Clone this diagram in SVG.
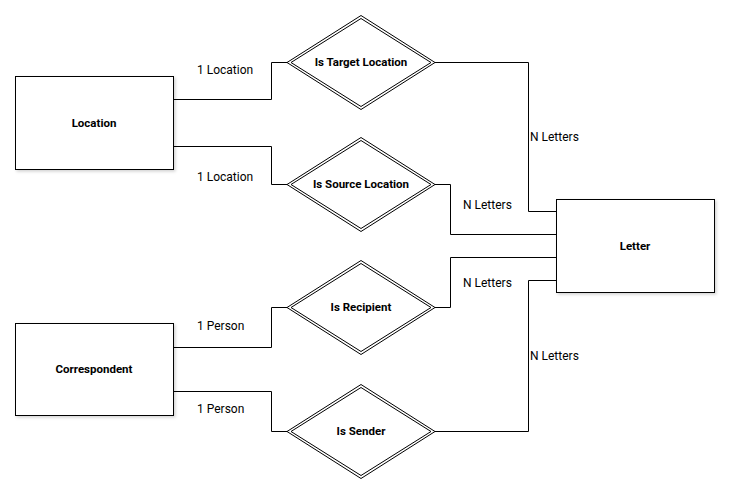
<svg xmlns="http://www.w3.org/2000/svg" width="730" height="492" viewBox="0 0 730 492">
<defs>
<filter id="sh" x="-10%" y="-10%" width="130%" height="130%">
<feDropShadow dx="1.5" dy="1.5" stdDeviation="1.5" flood-color="#000" flood-opacity="0.18"/>
</filter>
<style>
.ent{fill:#fff;stroke:#000;stroke-width:1;filter:url(#sh)}
.rel{fill:#fff;stroke:#000;stroke-width:1}
.reli{fill:none;stroke:#000;stroke-width:1}
.name{font-family:Roboto,"Liberation Sans",sans-serif;font-size:11.5px;font-weight:bold;text-anchor:middle;fill:#000}
.lbl{font-family:Roboto,"Liberation Sans",sans-serif;font-size:12px;fill:#000}
.con{fill:none;stroke:#000;stroke-width:1}
</style>
</defs>
<rect width="730" height="492" fill="#fff"/>
<g id="connectors">
<path class="con" d="M173 99.5 H271.5 V62.5 H287"/>
<path class="con" d="M173 146.5 H271.5 V184.5 H287"/>
<path class="con" d="M435 62.5 H528.5 V211.5 H556"/>
<path class="con" d="M435 184.5 H450.5 V234.5 H556"/>
<path class="con" d="M435 307.5 H450.5 V257.5 H556"/>
<path class="con" d="M435 431.5 H528.5 V280.5 H556"/>
<path class="con" d="M173 347.5 H271.5 V307.5 H287"/>
<path class="con" d="M173 391.5 H271.5 V431.5 H287"/>
<text class="lbl" x="197" y="74">1 Location</text>
<text class="lbl" x="197" y="181">1 Location</text>
<text class="lbl" x="197" y="330">1 Person</text>
<text class="lbl" x="197" y="413">1 Person</text>
<text class="lbl" x="530" y="141">N Letters</text>
<text class="lbl" x="463" y="209">N Letters</text>
<text class="lbl" x="463" y="287">N Letters</text>
<text class="lbl" x="530" y="360">N Letters</text>
</g>
<g id="location">
<rect class="ent" x="15.5" y="76.5" width="158" height="93"/>
<text class="name" x="94" y="127">Location</text>
</g>
<g id="correspondent">
<rect class="ent" x="15.5" y="323.5" width="158" height="92"/>
<text class="name" x="94" y="373">Correspondent</text>
</g>
<g id="letter">
<rect class="ent" x="556.5" y="199.5" width="158" height="93"/>
<text class="name" x="635" y="250">Letter</text>
</g>
<g id="is-target-location">
<polygon class="rel" points="287,62.5 361,15.5 435,62.5 361,109.5"/>
<polygon class="reli" points="291,62.5 361,18.5 431,62.5 361,106.5"/>
<text class="name" x="361" y="66">Is Target Location</text>
</g>
<g id="is-source-location">
<polygon class="rel" points="287,184.5 361,137.5 435,184.5 361,231.5"/>
<polygon class="reli" points="291,184.5 361,140.5 431,184.5 361,228.5"/>
<text class="name" x="361" y="188">Is Source Location</text>
</g>
<g id="is-recipient">
<polygon class="rel" points="287,307.5 361,260.5 435,307.5 361,354.5"/>
<polygon class="reli" points="291,307.5 361,263.5 431,307.5 361,351.5"/>
<text class="name" x="361" y="311">Is Recipient</text>
</g>
<g id="is-sender">
<polygon class="rel" points="287,431.5 361,384.5 435,431.5 361,478.5"/>
<polygon class="reli" points="291,431.5 361,387.5 431,431.5 361,475.5"/>
<text class="name" x="361" y="435">Is Sender</text>
</g>
</svg>
